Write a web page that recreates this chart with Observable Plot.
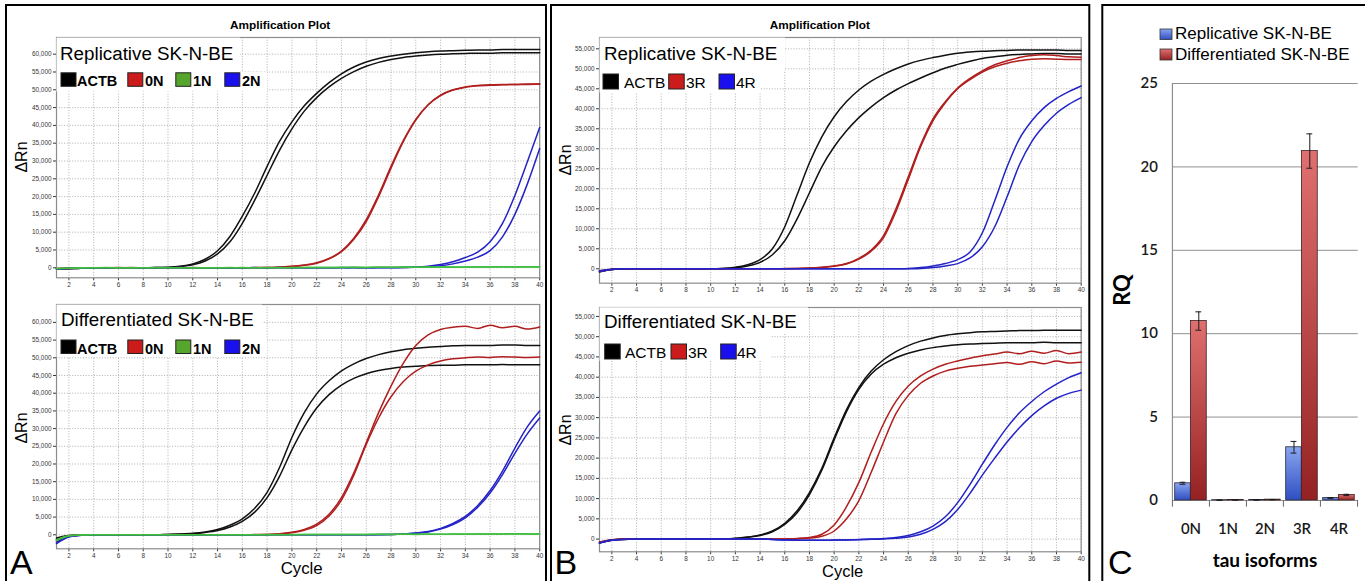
<!DOCTYPE html>
<html><head><meta charset="utf-8">
<script src="https://cdn.jsdelivr.net/npm/d3@7"></script>
<script src="https://cdn.jsdelivr.net/npm/@observablehq/plot@0.6"></script>
<style>
html,body{margin:0;padding:0;background:#fff;}
#root{position:relative;width:1365px;height:581px;overflow:hidden;background:#fff;}
#root svg{position:absolute;}
</style></head><body><div id="root"></div>
<script>
// ---------- DATA ----------
const cycles = [1,2,3,4,5,6,7,8,9,10,11,12,13,14,15,16,17,18,19,20,21,22,23,24,25,26,27,28,29,30,31,32,33,34,35,36,37,38,39,40];
const cycleTicks = [2,4,6,8,10,12,14,16,18,20,22,24,26,28,30,32,34,36,38,40];
const yTicksA = [0,5000,10000,15000,20000,25000,30000,35000,40000,45000,50000,55000,60000];
const yTicksB = [0,5000,10000,15000,20000,25000,30000,35000,40000,45000,50000,55000];

// Panel A top: Replicative SK-N-BE (ACTB, 0N, 1N, 2N), two replicates each
const aRepACTB1 = [-400,-250,-100,-50,0,0,-50,0,50,150,450,1100,2400,4800,8800,14500,21000,28500,35500,41000,45500,49000,52000,54500,56400,57800,58800,59500,60000,60400,60700,60900,61000,61100,61200,61200,61300,61300,61300,61300];
const aRepACTB2 = [-300,-200,-100,0,0,-50,0,0,50,100,350,850,1900,3900,7300,12500,19000,26000,33000,39000,44000,47800,50800,53200,55100,56600,57700,58500,59100,59500,59800,60000,60100,60200,60300,60300,60400,60400,60400,60400];
const aRep0N1 = [-300,-200,-100,-50,0,50,0,-50,0,0,50,0,-50,0,0,-50,0,50,150,350,700,1300,2500,4500,8000,13000,20000,28000,35500,41500,45800,48500,50000,50800,51200,51400,51500,51500,51600,51600];
const aRep0N2 = [-200,-150,-50,0,0,0,50,0,-50,0,0,50,0,-50,0,0,50,50,200,400,800,1400,2600,4700,8300,13500,20500,28500,35800,41700,45800,48400,49900,50700,51100,51300,51400,51500,51500,51600];
const aRep1N1 = [-250,-150,-50,0,50,0,-50,0,0,50,0,0,-50,0,50,0,0,50,0,50,100,50,100,100,150,100,150,150,200,150,200,200,250,200,250,250,300,250,300,300];
const aRep1N2 = [-200,-100,0,0,0,-50,0,0,50,0,0,-50,0,0,0,50,0,0,50,0,50,100,50,100,100,100,150,100,150,150,150,200,150,200,200,200,250,200,250,250];
const aRep2N1 = [-350,-200,-100,0,0,0,-50,0,0,50,0,0,-50,0,0,0,50,0,0,-50,0,0,0,50,0,0,50,50,100,200,450,900,1700,2900,4400,7300,12500,20300,29700,39400];
const aRep2N2 = [-300,-150,-50,0,0,0,0,-50,0,0,50,0,0,0,-50,0,0,0,50,0,0,0,0,0,50,0,0,0,50,150,300,600,1100,1900,3000,4800,8700,15000,23500,33500];

// Panel A bottom: Differentiated SK-N-BE
const aDifACTB1 = [-1300,-300,-100,0,0,0,-50,0,0,100,200,400,800,1500,2700,4500,7500,12000,19000,27500,34500,39800,43500,46300,48300,49800,50900,51700,52300,52700,53000,53200,53400,53500,53500,53500,53600,53600,53500,53500];
const aDifACTB2 = [-900,-200,-50,0,0,0,0,0,0,50,150,300,650,1200,2200,3800,6400,10500,16500,24000,30500,35800,39600,42300,44200,45500,46400,47000,47400,47600,47800,47900,47900,48000,48000,48000,48100,48000,48000,48000];
const aDif0N1 = [-1800,-400,-100,0,0,0,0,-50,0,0,0,0,0,0,0,0,50,100,300,700,1500,3000,5800,10500,17500,26000,34500,42000,48500,53500,56500,58000,58600,58900,58300,59200,58500,58900,58100,58700];
const aDif0N2 = [-1500,-300,-100,0,0,0,0,0,0,0,0,0,0,0,0,0,30,80,250,600,1300,2600,5300,9800,16800,25500,33000,39000,43300,46200,48000,49100,49700,50000,50200,50100,50300,50200,50100,50200];
const aDif1N1 = [-1600,-350,-80,0,0,0,0,0,0,0,0,0,0,0,0,0,0,50,0,50,50,50,100,50,100,100,150,100,150,150,200,150,200,200,250,200,250,300,250,300];
const aDif1N2 = [-1400,-300,-50,0,0,0,0,0,0,0,0,0,0,0,0,0,0,0,50,0,50,50,50,100,50,100,100,100,150,100,150,150,200,150,200,200,200,250,200,250];
const aDif2N1 = [-2500,-600,-150,0,0,0,0,0,0,0,0,0,0,0,0,0,0,0,0,0,0,0,0,0,0,0,50,100,250,500,900,1800,3200,5200,8300,12500,18000,24500,30500,35000];
const aDif2N2 = [-2200,-500,-100,0,0,0,0,0,0,0,0,0,0,0,0,0,0,0,0,0,0,0,0,0,0,0,0,80,200,400,800,1600,2900,4800,7800,11800,17000,23000,28500,33000];

// Panel B top: Replicative SK-N-BE (ACTB, 3R, 4R)
const bRepACTB1 = [-800,-200,0,0,0,0,0,0,0,0,100,400,1000,2300,5000,10500,18500,26500,33000,38000,41800,44700,46900,48600,50000,51200,52100,52800,53400,53900,54200,54400,54500,54600,54700,54700,54700,54700,54600,54600];
const bRepACTB2 = [-700,-200,0,0,0,0,0,0,0,0,50,250,700,1600,3500,7000,12500,19000,25500,30500,34500,37800,40500,42800,44700,46300,47700,49000,50200,51100,51900,52600,53000,53400,53600,53700,53800,53800,53700,53700];
const bRep3R1 = [-600,-150,0,0,0,0,0,0,0,0,0,0,0,0,0,50,100,200,400,700,1300,2600,4700,8300,15000,23000,31000,37500,41800,45200,47600,49500,51000,52000,52800,53300,53500,53300,53000,52900];
const bRep3R2 = [-500,-100,0,0,0,0,0,0,0,0,0,0,0,0,0,30,80,180,350,650,1200,2400,4400,7800,14300,22300,30500,37000,41500,45000,47300,49200,50500,51400,52000,52400,52500,52400,52300,52300];
const bRep4R1 = [-600,-150,0,0,0,0,0,0,0,0,0,0,0,0,0,0,0,0,0,0,0,0,0,0,0,100,300,700,1300,2300,4200,9000,17000,25500,32500,37000,40300,42600,44300,45700];
const bRep4R2 = [-500,-100,0,0,0,0,0,0,0,0,0,0,0,0,0,0,0,0,0,0,0,0,0,0,0,0,100,300,700,1300,2700,5500,10500,18000,26000,31800,35800,38900,41100,42800];

// Panel B bottom: Differentiated SK-N-BE
const bDifACTB1 = [-1000,-300,-100,0,0,0,0,0,0,0,0,200,500,1000,2000,3900,7000,11500,17500,25000,32000,37500,41500,44300,46300,47800,48900,49700,50300,50700,51000,51200,51300,51400,51500,51500,51600,51600,51600,51600];
const bDifACTB2 = [-900,-250,-50,0,0,0,0,0,0,0,0,150,450,900,1800,3600,6500,11000,17000,24500,31500,37000,40800,43200,44800,45900,46700,47300,47700,48000,48200,48300,48400,48500,48500,48500,48600,48500,48500,48500];
const bDif3R1 = [-800,-200,0,0,0,0,0,0,0,0,0,0,0,0,0,50,150,400,1200,3500,8000,14000,21500,28500,34000,37800,40300,42000,43200,44000,44700,45300,45700,46200,45800,46400,45900,46600,45800,46200];
const bDif3R2 = [-700,-150,0,0,0,0,0,0,0,0,0,0,0,0,0,0,100,250,700,2000,5000,9500,16500,24000,31000,35500,38500,40300,41500,42200,42700,43000,43300,43600,43200,43800,43300,44000,43500,43700];
const bDif4R1 = [-1000,-300,-100,0,0,0,0,0,0,0,0,0,0,0,-100,-200,-300,-300,-300,-250,-200,-100,0,150,400,900,1800,3200,5500,9000,13500,18500,23300,27600,31200,34000,36400,38300,39900,41100];
const bDif4R2 = [-900,-250,-50,0,0,0,0,0,0,0,0,0,0,0,-100,-200,-250,-300,-300,-250,-200,-150,-50,50,200,500,1200,2400,4300,7300,11300,15800,20000,24000,27500,30500,32900,34800,36000,36800];

// Panel C: relative quantification
const isoforms = ["0N","1N","2N","3R","4R"];
const rqReplicative = [1.03,0.02,0.03,3.19,0.15];
const errReplicative = [0.06,0.005,0.008,0.35,0.02];
const rqDifferentiated = [10.76,0.03,0.05,20.95,0.33];
const errDifferentiated = [0.55,0.005,0.01,1.03,0.04];
const rqTicks = [0,5,10,15,20,25];

const legendN = ["ACTB","0N","1N","2N"];
const legendR = ["ACTB","3R","4R"];

// ---------- STYLE ----------
const LS = "'Liberation Sans', Arial, Helvetica, sans-serif";
const col = {ACTB:"#111111", N0:"#b01e1e", N1:"#3fbf3f", N2:"#2323c8", R3:"#b01e1e", R4:"#2323c8"};
const sq = {ACTB:"#000000", "0N":"#cc1b1b", "1N":"#56a62e", "2N":"#1a10ee", "3R":"#cc1b1b", "4R":"#1a10ee"};

const root = document.getElementById("root");
function place(svg, left, top){ svg.style.left = left+"px"; svg.style.top = top+"px"; root.appendChild(svg); }

function amp(cfg){
  const mL=50, mR=6, mT=8, mB=16;
  const w = cfg.frameR-cfg.frameL+mL+mR, h = cfg.frameB-cfg.frameT+mT+mB;
  const grid = {stroke:"#9c9c9c", strokeDasharray:"1,1.7", strokeWidth:0.8};
  const marks = [
    Plot.ruleX(cycleTicks, grid),
    Plot.ruleY(cfg.yTicks, grid),
    Plot.frame({stroke:"#8c8c8c", strokeWidth:1.2}),
    ...cfg.series.map(s => Plot.line(s.v, {x:(d,i)=>cycles[i], y:d=>d, stroke:s.c, strokeWidth:1.5, curve:"monotone-x"}))
  ];
  const svg = Plot.plot({
    width:w, height:h, marginLeft:mL, marginRight:mR, marginTop:mT, marginBottom:mB,
    x:{domain:[1,40], ticks:cycleTicks, tickSize:3, tickPadding:1.5, label:null},
    y:{domain:cfg.yDomain, ticks:cfg.yTicks, tickFormat:d3.format(","), tickSize:3, tickPadding:2, label:null},
    style:{fontFamily:LS, fontSize:"6.4px", color:"#333", background:"transparent", overflow:"visible"},
    marks
  });
  place(svg, cfg.frameL-mL, cfg.frameT-mT);
}

amp({frameL:55.8, frameR:539, frameT:37, frameB:277.3, yDomain:[-2810,64690], yTicks:yTicksA,
  series:[{v:aRepACTB1,c:col.ACTB},{v:aRepACTB2,c:col.ACTB},{v:aRep0N1,c:col.N0},{v:aRep0N2,c:col.N0},
          {v:aRep2N1,c:col.N2},{v:aRep2N2,c:col.N2},{v:aRep1N1,c:col.N1},{v:aRep1N2,c:col.N1}]});
amp({frameL:55.8, frameR:539, frameT:304, frameB:548.3, yDomain:[-3955,65056], yTicks:yTicksA,
  series:[{v:aDifACTB1,c:col.ACTB},{v:aDifACTB2,c:col.ACTB},{v:aDif0N1,c:col.N0},{v:aDif0N2,c:col.N0},
          {v:aDif2N1,c:col.N2},{v:aDif2N2,c:col.N2},{v:aDif1N1,c:col.N1},{v:aDif1N2,c:col.N1}]});
amp({frameL:599, frameR:1080.7, frameT:37, frameB:282.7, yDomain:[-3600,57825], yTicks:yTicksB,
  series:[{v:bRepACTB1,c:col.ACTB},{v:bRepACTB2,c:col.ACTB},{v:bRep3R1,c:col.R3},{v:bRep3R2,c:col.R3},
          {v:bRep4R1,c:col.R4},{v:bRep4R2,c:col.R4}]});
amp({frameL:599, frameR:1080.7, frameT:306.7, frameB:551, yDomain:[-3137,57213], yTicks:yTicksB,
  series:[{v:bDifACTB1,c:col.ACTB},{v:bDifACTB2,c:col.ACTB},{v:bDif3R1,c:col.R3},{v:bDif3R2,c:col.R3},
          {v:bDif4R1,c:col.R4},{v:bDif4R2,c:col.R4}]});

// ---------- Panel C bar chart ----------
(function(){
  const cL=1172.3, cR=1358, cT=83, cB=500;
  const mL=60, mR=7, mT=13, mB=45;
  const step = (cR-cL)/isoforms.length, half = step/2;
  const axisCol = "#8f8f8f";
  const errStyle = {stroke:"#1a1a1a", strokeWidth:1};
  const marks = [
    Plot.ruleY(rqTicks, {stroke:axisCol, strokeWidth:1}),
    Plot.ruleX([isoforms[0]], {x:d=>d, dx:-half, y1:0, y2:25, stroke:axisCol, strokeWidth:1.2}),
    Plot.ruleX(isoforms, {x:d=>d, dx:-half, y1:0, y2:-0.4, stroke:"#666", strokeWidth:1}),
    Plot.ruleX([isoforms[isoforms.length-1]], {x:d=>d, dx:half, y1:0, y2:-0.4, stroke:"#666", strokeWidth:1}),
    Plot.barY(isoforms, {x:d=>d, y1:0, y2:(d,i)=>rqReplicative[i], fill:"url(#gBlue)", stroke:"#2a2a3a", strokeWidth:0.8, insetLeft:2.7, insetRight:step-18.4}),
    Plot.barY(isoforms, {x:d=>d, y1:0, y2:(d,i)=>rqDifferentiated[i], fill:"url(#gRed)", stroke:"#3a2222", strokeWidth:0.8, insetLeft:18.4, insetRight:step-34.4}),
    Plot.ruleX(isoforms, {x:d=>d, dx:-8, y1:(d,i)=>rqReplicative[i]-errReplicative[i], y2:(d,i)=>rqReplicative[i]+errReplicative[i], ...errStyle}),
    Plot.tickY(isoforms, {x:d=>d, y:(d,i)=>rqReplicative[i]+errReplicative[i], insetLeft:half-11, insetRight:half+5, ...errStyle}),
    Plot.tickY(isoforms, {x:d=>d, y:(d,i)=>rqReplicative[i]-errReplicative[i], insetLeft:half-11, insetRight:half+5, ...errStyle}),
    Plot.ruleX(isoforms, {x:d=>d, dx:7.8, y1:(d,i)=>rqDifferentiated[i]-errDifferentiated[i], y2:(d,i)=>rqDifferentiated[i]+errDifferentiated[i], ...errStyle}),
    Plot.tickY(isoforms, {x:d=>d, y:(d,i)=>rqDifferentiated[i]+errDifferentiated[i], insetLeft:half+4.8, insetRight:half-10.8, ...errStyle}),
    Plot.tickY(isoforms, {x:d=>d, y:(d,i)=>rqDifferentiated[i]-errDifferentiated[i], insetLeft:half+4.8, insetRight:half-10.8, ...errStyle})
  ];
  const svg = Plot.plot({
    width:cR-cL+mL+mR, height:cB-cT+mT+mB, marginLeft:mL, marginRight:mR, marginTop:mT, marginBottom:mB,
    x:{domain:isoforms, padding:0, tickSize:0, tickPadding:23, label:null},
    y:{domain:[0,25], ticks:rqTicks, tickSize:0, tickPadding:14.5, label:null},
    style:{fontFamily:"Lato, 'Open Sans', sans-serif", fontSize:"15px", fontWeight:"600", color:"#1a1a1a", background:"transparent", overflow:"visible"},
    marks
  });
  const defs = d3.select(svg).insert("defs", ":first-child");
  function grad(id, a, b){
    const g = defs.append("linearGradient").attr("id", id).attr("x1",0).attr("y1",0).attr("x2",0).attr("y2",1);
    g.append("stop").attr("offset","0%").attr("stop-color",a);
    g.append("stop").attr("offset","100%").attr("stop-color",b);
  }
  grad("gBlue", "#8aa5f0", "#2f4fc2");
  grad("gRed", "#e07070", "#952222");
  place(svg, cL-mL, cT-mT);
})();

// ---------- Overlay: titles, legends, labels, borders ----------
const ov = d3.select(root).append("svg").attr("width",1365).attr("height",581)
  .style("left","0px").style("top","0px").style("overflow","visible");
function rect(x,y,w,h,fill,stroke,sw){ return ov.append("rect").attr("x",x).attr("y",y).attr("width",w).attr("height",h)
  .attr("fill",fill).attr("stroke",stroke||"none").attr("stroke-width",sw||0); }
function text(x,y,s,o){ o=o||{};
  const t = ov.append("text").attr("x",x).attr("y",y).text(s)
    .attr("font-family",o.family||LS).attr("font-size",o.size||12).attr("font-weight",o.weight||"normal")
    .attr("fill",o.fill||"#000").attr("text-anchor",o.anchor||"start");
  if(o.rotate){ t.attr("transform",`rotate(${o.rotate},${x},${y})`); }
  if(o.baseline) t.attr("dominant-baseline",o.baseline);
  return t; }

// white boxes behind inset titles/legends
rect(56.5,37.6,183.5,34.4,"#fff"); rect(56.5,72,210.5,19.5,"#fff");
rect(56.5,304.6,205.5,34.4,"#fff"); rect(56.5,339,210.5,18,"#fff");
rect(599.6,37.6,185.4,32.4,"#fff"); rect(599.6,70,161.4,22.5,"#fff");
rect(599.6,307.3,208.4,25.7,"#fff"); rect(599.6,333,170.4,28,"#fff");

// titles
text(230,28.5,"Amplification Plot",{size:11.8,weight:"bold"});
text(769.7,28.5,"Amplification Plot",{size:11.8,weight:"bold"});
text(60,59.5,"Replicative SK-N-BE",{size:18.8});
text(61,326,"Differentiated SK-N-BE",{size:18.8});
text(604,59.5,"Replicative SK-N-BE",{size:18.8});
text(604,327.5,"Differentiated SK-N-BE",{size:18.8});

// legends in A
function legA(y0, base){
  const xs = [[61,77],[127.8,145],[175.8,193],[224.8,242]];
  legendN.forEach((k,i)=>{ rect(xs[i][0],y0,15,13.5,sq[k],"#222",1); text(xs[i][1],base,k,{size:14.5,weight:"bold"}); });
}
legA(72.8,85.8); legA(340,353.5);
function legB(y0, base, xs){
  legendR.forEach((k,i)=>{ rect(xs[i][0],y0,15.5,15,sq[k],"#222",1); text(xs[i][1],base,k,{size:15.5}); });
}
legB(74,88,[[603,624],[668.7,686],[719,736]]);
legB(344,358,[[604.7,625],[671,688],[720.7,737]]);

// axis labels
text(21,157,"\u0394Rn",{size:16,anchor:"middle",rotate:-90,baseline:"central"});
text(21,428,"\u0394Rn",{size:16,anchor:"middle",rotate:-90,baseline:"central"});
text(565,160,"\u0394Rn",{size:16,anchor:"middle",rotate:-90,baseline:"central"});
text(565,430,"\u0394Rn",{size:16,anchor:"middle",rotate:-90,baseline:"central"});
text(280.7,574,"Cycle",{size:16.8});
text(822,576.5,"Cycle",{size:16.5});

// panel C texts
const odefs = ov.insert("defs",":first-child");
[["gBlueL","#8aa5f0","#2f4fc2"],["gRedL","#e07070","#952222"]].forEach(([id,a,b])=>{
  const g = odefs.append("linearGradient").attr("id",id).attr("x1",0).attr("y1",0).attr("x2",0).attr("y2",1);
  g.append("stop").attr("offset","0%").attr("stop-color",a);
  g.append("stop").attr("offset","100%").attr("stop-color",b);
});
rect(1160,29,12,10.5,"url(#gBlueL)","#333",0.8);
rect(1160,49,12,11,"url(#gRedL)","#333",0.8);
text(1175,39.3,"Replicative SK-N-BE",{size:17});
text(1175,59.8,"Differentiated SK-N-BE",{size:17});
text(1121,290,"RQ",{size:22,weight:"bold",family:"Lato, sans-serif",anchor:"middle",rotate:-90,baseline:"central"});
text(1265,566.5,"tau isoforms",{size:19,weight:"bold",family:"Lato, sans-serif",anchor:"middle"});

// panel letters
text(10,573.5,"A",{size:34});
text(554.5,573.5,"B",{size:34});
text(1108,573.5,"C",{size:34});

// panel borders
rect(6,5,540,620,"none","#000",2);
rect(551,5,538.3,620,"none","#000",2);
rect(1102.3,5,300,620,"none","#000",2);
</script>
</body></html>
